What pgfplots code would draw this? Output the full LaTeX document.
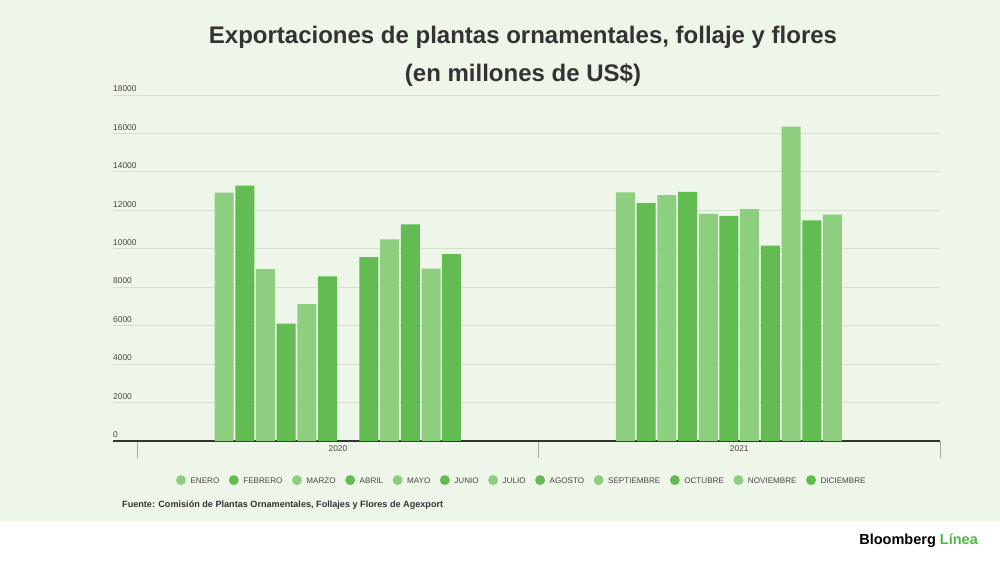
\documentclass[border=0pt]{standalone}
\usepackage{pgfplots}
\pgfplotsset{compat=1.18}
\usepackage{fontspec}
\setmainfont{Liberation Sans}
\definecolor{bgg}{HTML}{EEF6EA}
\definecolor{lg}{HTML}{8ECF7F}
\definecolor{dg}{HTML}{63BC52}
\definecolor{txt}{HTML}{333333}
\definecolor{legtxt}{HTML}{444444}
\definecolor{gridc}{HTML}{D6DDD3}
\definecolor{blg}{HTML}{4DB848}
\pgfplotsset{circleg/.style={legend image code/.code={\fill[##1,draw=none] (0pt,0pt) circle (5pt);}}}
\begin{document}
\begin{tikzpicture}[x=1pt,y=1pt]
\fill[white] (0,0) rectangle (1000,562);
\fill[bgg] (0,41) rectangle (1000,562);
\node[text=txt,font=\fontsize{24}{28}\selectfont\bfseries] at (523,525) {Exportaciones de plantas ornamentales, follaje y flores};
\node[text=txt,font=\fontsize{24}{28}\selectfont\bfseries] at (523,487) {(en millones de US\$)};
\node[anchor=west,text=txt,font=\fontsize{9.1}{10}\selectfont\bfseries,inner sep=0pt] at (122,57) {Fuente: Comisión de Plantas Ornamentales, Follajes y Flores de Agexport};
\node[anchor=east,font=\fontsize{14.5}{16}\selectfont\bfseries,inner sep=0pt] at (978,21) {Bloomberg \textcolor{blg}{Línea}};
\begin{axis}[
  at={(113pt,121pt)}, anchor=south west, scale only axis,
  width=827pt, height=346pt,
  xmin=-0.5604, xmax=1.5, ymin=0, ymax=18000,
  enlarge x limits=false, enlarge y limits=false,
  ybar=1.7pt, bar width=19pt,
  axis line style={draw=none},
  major tick length=0pt,
  xtick={0,1}, xticklabels={2020,2021},
  xtick pos=bottom, ytick pos=left,
  extra x ticks={-0.5,0.5,1.5}, extra x tick labels={},
  extra x tick style={major tick length=17pt, tick align=outside, tick style={draw=gray!70, line width=0.9pt}},
  ytick={0,2000,...,18000},
  extra y ticks={0}, extra y tick labels={},
  extra y tick style={grid style={draw=txt, line width=1.1pt}},
  ymajorgrids, grid style={draw=gridc, line width=0.8pt},
  scaled y ticks=false,
  /pgf/number format/1000 sep={},
  /pgf/number format/assume math mode=true,
  tick label style={font=\fontsize{8.4}{10}\selectfont, text=legtxt},
  yticklabel style={anchor=south west, inner sep=0pt, yshift=3pt},
  xticklabel style={inner sep=0pt, yshift=-4pt},
  legend columns=12,
  legend style={at={(0.4958,-0.113)}, anchor=center, draw=none, fill=none,
    font=\fontsize{8.1}{9}\selectfont, text=legtxt,
    nodes={text height=6pt, text depth=0pt, inner xsep=4.5pt},
    /tikz/every even column/.append style={column sep=5pt}},
  every axis plot/.append style={draw=none},
]
\addplot[fill=lg, circleg] coordinates {(0,12920) (1,12930)};
\addlegendentry{ENERO}
\addplot[fill=dg, circleg] coordinates {(0,13280) (1,12380)};
\addlegendentry{FEBRERO}
\addplot[fill=lg, circleg] coordinates {(0,8940) (1,12790)};
\addlegendentry{MARZO}
\addplot[fill=dg, circleg] coordinates {(0,6110) (1,12960)};
\addlegendentry{ABRIL}
\addplot[fill=lg, circleg] coordinates {(0,7120) (1,11820)};
\addlegendentry{MAYO}
\addplot[fill=dg, circleg] coordinates {(0,8570) (1,11710)};
\addlegendentry{JUNIO}
\addplot[fill=lg, circleg] coordinates {(1,12070)};
\addlegendentry{JULIO}
\addplot[fill=dg, circleg] coordinates {(0,9570) (1,10160)};
\addlegendentry{AGOSTO}
\addplot[fill=lg, circleg] coordinates {(0,10490) (1,16350)};
\addlegendentry{SEPTIEMBRE}
\addplot[fill=dg, circleg] coordinates {(0,11270) (1,11480)};
\addlegendentry{OCTUBRE}
\addplot[fill=lg, circleg] coordinates {(0,8970) (1,11780)};
\addlegendentry{NOVIEMBRE}
\addplot[fill=dg, circleg] coordinates {(0,9710)};
\addlegendentry{DICIEMBRE}
\end{axis}
\end{tikzpicture}
\end{document}
